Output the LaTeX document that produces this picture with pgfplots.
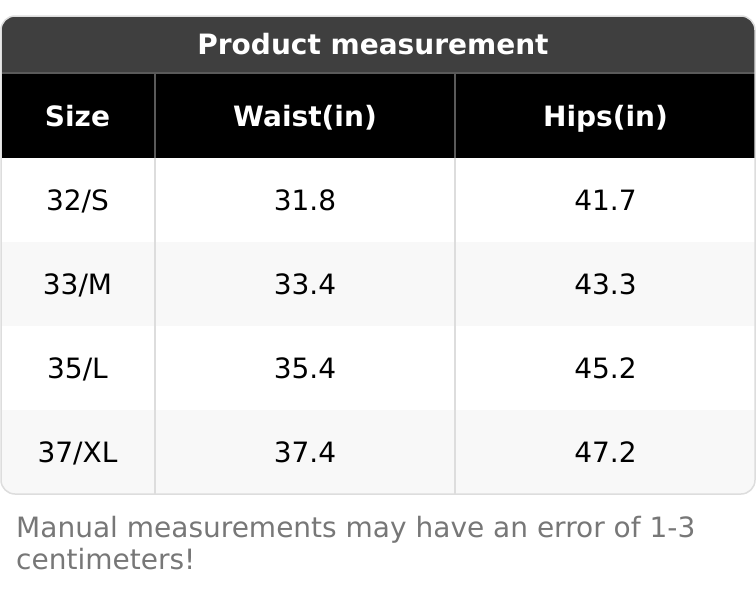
\documentclass[border=0pt]{standalone}
\usepackage{pgfplots}
\pgfplotsset{compat=1.18}
\usepackage{pgfplotstable}
\usepackage{fontspec}
\setmainfont{DejaVu Sans}
\definecolor{titlebg}{HTML}{3F3F3F}
\definecolor{rowalt}{HTML}{F8F8F8}
\definecolor{gridc}{HTML}{DDDDDD}
\definecolor{hdrline}{HTML}{5A5A5A}
\definecolor{notec}{HTML}{777777}
\pgfplotstableread[col sep=comma]{
x,y,label
77.5,116,Size
305,116,Waist(in)
605.5,116,Hips(in)
}\headtable
\pgfplotstableread[col sep=comma]{
x,y,label
77.5,200,32/S
77.5,284,33/M
77.5,368,35/L
77.5,452,37/XL
305,200,31.8
305,284,33.4
305,368,35.4
305,452,37.4
605.5,200,41.7
605.5,284,43.3
605.5,368,45.2
605.5,452,47.2
}\bodytable
\begin{document}
\begin{tikzpicture}
\begin{axis}[
  width=756pt, height=592pt, scale only axis,
  xmin=0, xmax=756, ymin=0, ymax=592,
  y dir=reverse, hide axis, clip=false,
]
\begin{scope}
  \clip[rounded corners=14pt] (axis cs:1,16) rectangle (axis cs:755,494);
  \fill[white] (axis cs:0,16) rectangle (axis cs:756,494);
  \fill[titlebg] (axis cs:0,16) rectangle (axis cs:756,73);
  \fill[black] (axis cs:0,73) rectangle (axis cs:756,158);
  \fill[rowalt] (axis cs:0,242) rectangle (axis cs:756,326);
  \fill[rowalt] (axis cs:0,410) rectangle (axis cs:756,494);
  \draw[hdrline, line width=2pt] (axis cs:0,73) -- (axis cs:756,73);
  \draw[hdrline, line width=2pt] (axis cs:155,74) -- (axis cs:155,158);
  \draw[hdrline, line width=2pt] (axis cs:455,74) -- (axis cs:455,158);
  \draw[gridc, line width=2pt] (axis cs:155,158) -- (axis cs:155,494);
  \draw[gridc, line width=2pt] (axis cs:455,158) -- (axis cs:455,494);
\end{scope}
\draw[gridc, line width=1.5pt, rounded corners=14pt] (axis cs:1,16) rectangle (axis cs:755,494);
\node[white, font=\fontsize{28}{33}\selectfont\bfseries, anchor=base, inner sep=0pt] at (axis cs:373,54) {Product measurement};
\addplot[draw=none, mark=none, nodes near coords, point meta=explicit symbolic,
  nodes near coords style={white, anchor=base, yshift=-10pt, inner sep=0pt, font=\fontsize{28}{33}\selectfont\bfseries}]
  table[x=x, y=y, meta=label] {\headtable};
\addplot[draw=none, mark=none, nodes near coords, point meta=explicit symbolic,
  nodes near coords style={black, anchor=base, yshift=-10pt, inner sep=0pt, font=\fontsize{28}{33}\selectfont}]
  table[x=x, y=y, meta=label] {\bodytable};
\node[notec, font=\fontsize{28}{33}\selectfont, anchor=base west, inner sep=0pt] at (axis cs:16,537) {Manual measurements may have an error of 1-3};
\node[notec, font=\fontsize{28}{33}\selectfont, anchor=base west, inner sep=0pt] at (axis cs:16,569) {centimeters!};
\end{axis}
\pgfresetboundingbox
\path (0,0) rectangle (756pt,592pt);
\end{tikzpicture}
\end{document}
